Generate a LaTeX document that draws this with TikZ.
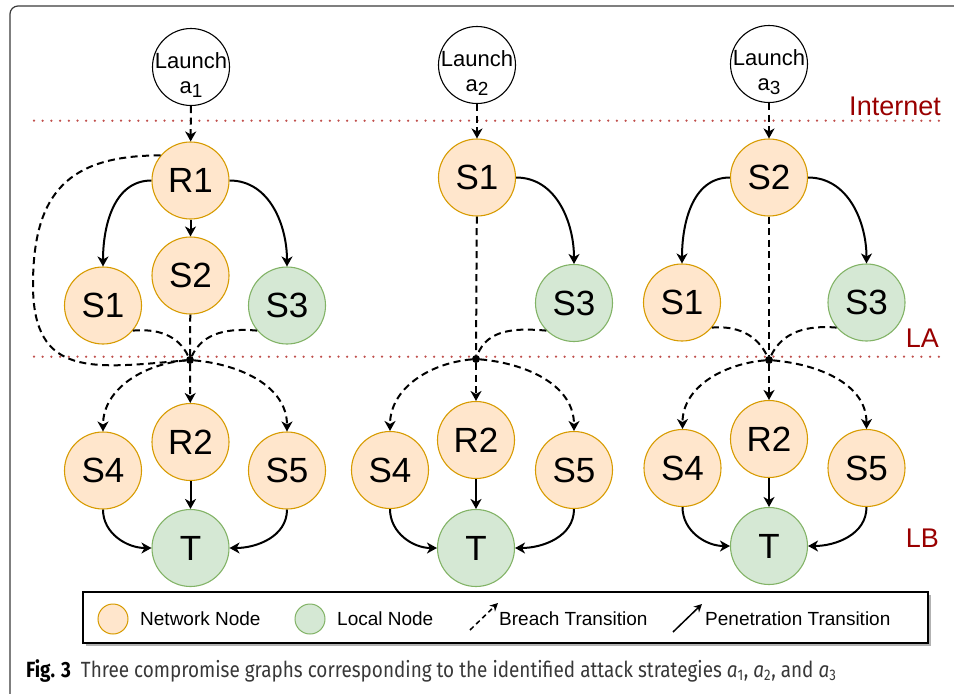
\documentclass[tikz,border=0pt]{standalone}
\usepackage{fontspec}
\setmainfont{Liberation Sans}
\newfontfamily\capfont[FakeStretch=0.86]{Fira Sans}
\usetikzlibrary{
  arrows.meta,
  shadows
}
\definecolor{cgNetFill}{HTML}{FFE6CC}
\definecolor{cgNetDraw}{HTML}{D79B00}
\definecolor{cgLocFill}{HTML}{D5E8D4}
\definecolor{cgLocDraw}{HTML}{82B366}
\definecolor{cgZone}{HTML}{C0504D}
\definecolor{cgZoneText}{HTML}{990000}
\definecolor{cgFrame}{HTML}{3A3A3A}
\tikzset{
  cgnode/.style={
    circle, draw, minimum size=77pt, inner sep=0pt, line width=1.1pt,
    font=\fontsize{35}{35}\selectfont
  },
  netnode/.style={cgnode, fill=cgNetFill, draw=cgNetDraw},
  locnode/.style={cgnode, fill=cgLocFill, draw=cgLocDraw},
  launchnode/.style={cgnode, fill=white, draw=black, inner sep=-12pt, align=center,
    font=\fontsize{22}{25}\selectfont},
  junction/.style={circle, fill=black, minimum size=8pt, inner sep=0pt},
  breach/.style={-{Stealth[length=10pt, width=11pt, inset=3pt]}, line width=2pt,
    dash pattern=on 7pt off 4.5pt},
  breachin/.style={line width=2pt, dash pattern=on 7pt off 4.5pt},
  penetr/.style={-{Stealth[length=10pt, width=11pt, inset=3pt]}, line width=2pt},
  zoneline/.style={cgZone, line width=2.5pt, line cap=round, dash pattern=on 0pt off 8.7pt},
  zonetag/.style={text=cgZoneText, font=\fontsize{27}{27}\selectfont, anchor=base east, inner sep=0pt},
  cgframe/.style={cgFrame, line width=1.2pt, rounded corners=8pt},
  legendbox/.style={draw=black, fill=white, line width=1.2pt, minimum width=845pt, minimum height=51pt,
    drop shadow={shadow xshift=2.5pt, shadow yshift=-2.5pt, fill=gray!60, opacity=1}},
  legnet/.style={circle, minimum size=30pt, inner sep=0pt, line width=1pt, fill=cgNetFill, draw=cgNetDraw},
  legloc/.style={circle, minimum size=30pt, inner sep=0pt, line width=1pt, fill=cgLocFill, draw=cgLocDraw},
  legtext/.style={font=\fontsize{19}{19}\selectfont, anchor=west, inner sep=0pt},
  legarrow/.style={-{Stealth[length=8pt, width=8pt, inset=2.5pt]}, line width=1.5pt},
  captext/.style={font=\capfont\fontsize{22}{22}\selectfont, text=black!78, inner sep=0pt}
}
\newcommand{\launchtext}[1]{\rule{0pt}{32pt}Launch\\a\raisebox{-4pt}{\fontsize{19}{19}\selectfont #1}}

\begin{document}
\begin{tikzpicture}[x=1pt, y=-1pt]
  \useasboundingbox (0,0) rectangle (954,694);
  % frame round the figure
  \draw[cgframe] (10,694) -- (10,6) -- (954,6);

  % zone boundaries
  \draw[zoneline] (34,120.7) -- (940,120.7);
  \draw[zoneline] (34,356.7) -- (940,356.7);
  \node[zonetag] (tag-inet) at (941,115) {Internet};
  \node[zonetag] (tag-la) at (939,347) {LA};
  \node[zonetag] (tag-lb) at (939,547) {LB};

  % graph for a1
  \node[launchnode] (g1-launch) at (191,67) {\launchtext{1}};
  \node[netnode] (g1-r1) at (190.5,180.5) {R1};
  \node[netnode] (g1-s2) at (190.5,275.5) {S2};
  \node[netnode] (g1-s1) at (103,305.5) {S1};
  \node[locnode] (g1-s3) at (287,305.5) {S3};
  \node[junction] (g1-j) at (190,360) {};
  \node[netnode] (g1-r2) at (190.5,442) {R2};
  \node[netnode] (g1-s4) at (103,470.5) {S4};
  \node[netnode] (g1-s5) at (287,470.5) {S5};
  \node[locnode] (g1-t) at (190.5,548) {T};
  \coordinate (g1-loop) at (33,285);

  \draw[breach] (g1-launch) -- (g1-r1);
  \draw[penetr] (g1-r1) -- (g1-s2);
  \draw[penetr] (g1-r1.west) to[out=180, in=90] (g1-s1.north);
  \draw[penetr] (g1-r1.east) to[out=0, in=90] (g1-s3.north);
  \draw[breachin] (g1-s1.-40) to[out=5, in=115] (g1-j);
  \draw[breachin] (g1-s2) -- (g1-j);
  \draw[breachin] (g1-s3.-140) to[out=175, in=65] (g1-j);
  \draw[breachin] (g1-r1.140) to[out=180, in=90, looseness=1.3] (g1-loop)
    to[out=-90, in=185, looseness=1.4] (g1-j);
  \draw[breach] (g1-j) -- (g1-r2);
  \draw[breach] (g1-j) to[out=185, in=90] (g1-s4.north);
  \draw[breach] (g1-j) to[out=-5, in=90] (g1-s5.north);
  \draw[penetr] (g1-r2) -- (g1-t);
  \draw[penetr] (g1-s4.south) to[out=-90, in=180] (g1-t.west);
  \draw[penetr] (g1-s5.south) to[out=-90, in=0] (g1-t.east);

  % graph for a2
  \node[launchnode] (g2-launch) at (477,65) {\launchtext{2}};
  \node[netnode] (g2-s1) at (477,177.5) {S1};
  \node[locnode] (g2-s3) at (574,303) {S3};
  \node[junction] (g2-j) at (476,359) {};
  \node[netnode] (g2-r2) at (476,440) {R2};
  \node[netnode] (g2-s4) at (390,470) {S4};
  \node[netnode] (g2-s5) at (574,470) {S5};
  \node[locnode] (g2-t) at (476,548) {T};

  \draw[breach] (g2-launch) -- (g2-s1);
  \draw[penetr] (g2-s1.east) to[out=0, in=90] (g2-s3.north);
  \draw[breachin] (g2-s1) -- (g2-j);
  \draw[breachin] (g2-s3.-135) to[out=175, in=70] (g2-j);
  \draw[breach] (g2-j) -- (g2-r2);
  \draw[breach] (g2-j) to[out=185, in=90] (g2-s4.north);
  \draw[breach] (g2-j) to[out=-5, in=90] (g2-s5.north);
  \draw[penetr] (g2-r2) -- (g2-t);
  \draw[penetr] (g2-s4.south) to[out=-90, in=180] (g2-t.west);
  \draw[penetr] (g2-s5.south) to[out=-90, in=0] (g2-t.east);

  % graph for a3
  \node[launchnode] (g3-launch) at (769,64) {\launchtext{3}};
  \node[netnode] (g3-s2) at (769,177.5) {S2};
  \node[netnode] (g3-s1) at (682,302.5) {S1};
  \node[locnode] (g3-s3) at (866.5,302.5) {S3};
  \node[junction] (g3-j) at (769,360) {};
  \node[netnode] (g3-r2) at (769,439) {R2};
  \node[netnode] (g3-s4) at (682.5,468) {S4};
  \node[netnode] (g3-s5) at (866.5,468) {S5};
  \node[locnode] (g3-t) at (769,546) {T};

  \draw[breach] (g3-launch) -- (g3-s2);
  \draw[penetr] (g3-s2.west) to[out=180, in=90] (g3-s1.north);
  \draw[penetr] (g3-s2.east) to[out=0, in=90] (g3-s3.north);
  \draw[breachin] (g3-s1.-40) to[out=5, in=115] (g3-j);
  \draw[breachin] (g3-s2) -- (g3-j);
  \draw[breachin] (g3-s3.-140) to[out=175, in=65] (g3-j);
  \draw[breach] (g3-j) -- (g3-r2);
  \draw[breach] (g3-j) to[out=185, in=90] (g3-s4.north);
  \draw[breach] (g3-j) to[out=-5, in=90] (g3-s5.north);
  \draw[penetr] (g3-r2) -- (g3-t);
  \draw[penetr] (g3-s4.south) to[out=-90, in=180] (g3-t.west);
  \draw[penetr] (g3-s5.south) to[out=-90, in=0] (g3-t.east);

  % legend
  \node[legendbox] (legend) at (505.5,617.5) {};
  \node[legnet] (leg-net) at (113,619) {};
  \node[legtext] (leg-net-txt) at (140,618.5) {Network Node};
  \node[legloc] (leg-loc) at (310,619) {};
  \node[legtext] (leg-loc-txt) at (337,618.5) {Local Node};
  \coordinate (leg-br-a) at (470,630);
  \coordinate (leg-br-b) at (498,603);
  \draw[legarrow, dash pattern=on 5pt off 3.5pt] (leg-br-a) -- (leg-br-b);
  \node[legtext] (leg-br-txt) at (499,618.5) {Breach Transition};
  \coordinate (leg-pe-a) at (673,632);
  \coordinate (leg-pe-b) at (702,604);
  \draw[legarrow] (leg-pe-a) -- (leg-pe-b);
  \node[legtext] (leg-pe-txt) at (705,618.5) {Penetration Transition};

  % caption
  \node[captext, anchor=base west] (caption) at (26,677)
    {{\bfseries\color{black}Fig. 3}\hspace{10pt}Three compromise graphs corresponding to the identified attack strategies {\itshape a}\textsubscript{1}, {\itshape a}\textsubscript{2}, and {\itshape a}\textsubscript{3}};
\end{tikzpicture}
\end{document}
